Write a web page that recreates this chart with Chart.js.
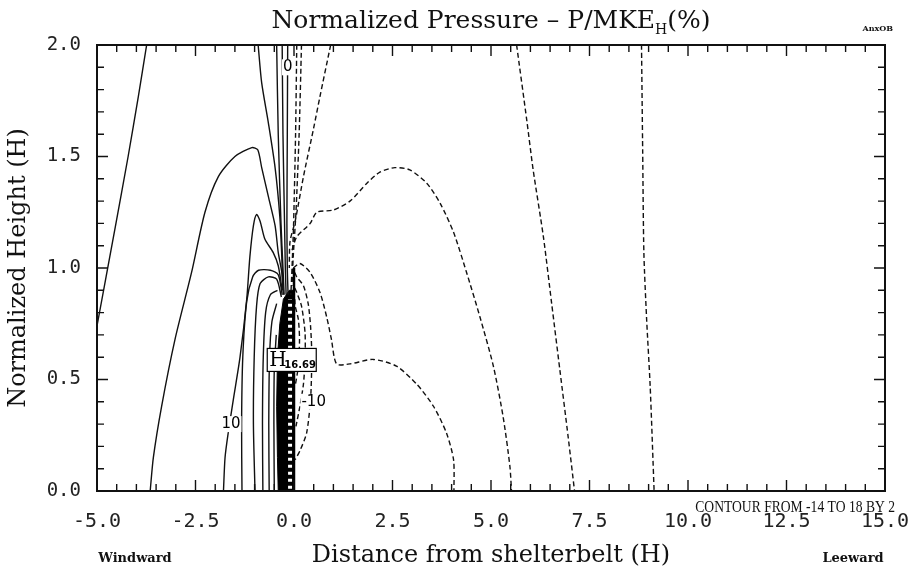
<!DOCTYPE html>
<html>
<head>
<meta charset="utf-8">
<script src="https://cdn.jsdelivr.net/npm/chart.js@4.4.0/dist/chart.umd.min.js"></script>
<style>
  body { margin: 0; background: #fff; }
  #wrap { width: 913px; height: 573px; }
</style>
</head>
<body>
<div id="wrap"><canvas id="pressureChart" width="913" height="573"></canvas></div>
<script>
// contour lines, [x (H), y (H)]
// solid = positive / zero pressure, dashed = negative
const windwardFar = [[-5,0.74],[-4.54,1.18],[-4.21,1.5],[-3.95,1.77],[-3.74,2.0]];
const windwardDome = [[-3.65,0],[-3.57,0.15],[-3.36,0.38],[-3.02,0.68],[-2.60,0.98],[-2.26,1.25],[-1.92,1.41],[-1.50,1.50],[-1.07,1.54],[-0.92,1.53],[-0.82,1.45],[-0.65,1.32],[-0.48,1.19],[-0.40,1.07],[-0.31,0.98],[-0.27,0.88]];
const windwardTen = [[-1.79,0],[-1.75,0.15],[-1.67,0.26],[-1.54,0.41],[-1.37,0.6],[-1.2,0.86],[-1.12,1.05],[-1.03,1.19],[-0.95,1.24],[-0.86,1.21],[-0.74,1.13],[-0.53,1.07],[-0.40,1.01],[-0.3,0.9]];
const windwardIn1 = [[-1.32,0],[-1.33,0.3],[-1.3,0.6],[-1.2,0.85],[-1.05,0.96],[-0.9,0.99],[-0.6,0.99],[-0.4,0.97],[-0.3,0.88]];
const windwardIn2 = [[-0.99,0],[-1.03,0.3],[-1.01,0.6],[-0.95,0.83],[-0.86,0.93],[-0.65,0.96],[-0.44,0.95],[-0.32,0.87]];
const windwardIn3 = [[-0.79,0],[-0.8,0.3],[-0.78,0.6],[-0.72,0.8],[-0.6,0.88],[-0.42,0.9]];
const windwardIn4 = [[-0.63,0],[-0.64,0.3],[-0.62,0.6],[-0.56,0.76],[-0.44,0.84]];
const windwardIn5 = [[-0.5,0],[-0.51,0.3],[-0.5,0.55],[-0.45,0.7]];
const topSolid1 = [[-0.91,2.0],[-0.82,1.83],[-0.65,1.65],[-0.48,1.45],[-0.36,1.23],[-0.31,1.05],[-0.28,0.9]];
const topSolid2 = [[-0.44,2.0],[-0.40,1.6],[-0.33,1.2],[-0.28,1.0],[-0.25,0.88]];
const topSolid3 = [[-0.30,2.0],[-0.28,1.6],[-0.24,1.2],[-0.22,1.0],[-0.2,0.88]];
const zeroLine = [[-0.16,2.0],[-0.17,1.6],[-0.18,1.2],[-0.17,1.0],[-0.15,0.88]];
const topDash1 = [[0.07,2.0],[0.04,1.6],[-0.01,1.2],[-0.05,1.0],[-0.08,0.88]];
const topDash2 = [[0.19,2.0],[0.13,1.6],[0.05,1.25],[-0.02,1.05],[-0.05,0.92]];
const topDash3 = [[0.93,2.0],[0.66,1.77],[0.49,1.62],[0.24,1.41],[0.03,1.21],[-0.10,1.12],[-0.12,1.0]];
const leeDome = [[-0.05,1.08],[0.07,1.14],[0.41,1.20],[0.58,1.25],[1.0,1.26],[1.42,1.30],[1.85,1.38],[2.18,1.43],[2.56,1.45],[2.94,1.44],[3.37,1.38],[3.71,1.29],[4.05,1.16],[4.38,0.98],[4.72,0.78],[5.06,0.56],[5.31,0.33],[5.48,0.11],[5.52,0]];
const leeShelf = [[-0.02,1.0],[0.15,1.02],[0.41,0.98],[0.66,0.89],[0.83,0.78],[0.95,0.68],[1.08,0.57],[1.42,0.57],[2.01,0.59],[2.60,0.56],[3.11,0.48],[3.54,0.38],[3.87,0.26],[4.05,0.14],[4.06,0]];
const leeLoop1 = [[0.02,0.98],[0.07,0.96],[0.24,0.92],[0.36,0.84],[0.42,0.74],[0.45,0.63],[0.45,0.56],[0.42,0.41],[0.32,0.26],[0.15,0.18],[0.03,0.14]];
const leeLoop2 = [[0.02,0.91],[0.07,0.89],[0.19,0.83],[0.28,0.71],[0.28,0.59],[0.24,0.48],[0.15,0.38],[0.05,0.29]];
const leeLoop3 = [[0.02,0.86],[0.03,0.83],[0.11,0.77],[0.14,0.68],[0.11,0.56],[0.03,0.47]];
const leeFar1 = [[5.65,2.0],[5.91,1.66],[6.07,1.44],[6.33,1.14],[6.54,0.84],[6.75,0.54],[6.96,0.24],[7.12,0]];
const leeFar2 = [[8.82,2.0],[8.85,1.52],[8.88,1.07],[8.95,0.77],[9.04,0.47],[9.14,0]];
// dense core of lines against the windward face, and the belt itself
const beltCore = [[-0.40,0],[-0.42,0.15],[-0.44,0.38],[-0.42,0.6],[-0.36,0.75],[-0.27,0.86],[-0.12,0.9],[0,0.9],[0,0]];
const beltLadder = [[-0.1,0.01],[-0.1,0.86]];
const beltFace = [[0,0],[0,1.0]];

const solidLines = [windwardFar, windwardDome, windwardTen, windwardIn1, windwardIn2, windwardIn3, windwardIn4, windwardIn5, topSolid1, topSolid2, topSolid3, zeroLine];
const dashedLines = [topDash1, topDash2, topDash3, leeDome, leeShelf, leeLoop1, leeLoop2, leeLoop3, leeFar1, leeFar2];

const contourLabels = [{text:'0', x:-0.16, y:1.9}, {text:'10', x:-1.6, y:0.30}, {text:'-10', x:0.5, y:0.40}];
const peak = {x:-0.07, y:0.59, value:'16.69'};

const xTickLabels = [-5, -2.5, 0, 2.5, 5, 7.5, 10, 12.5, 15];
const yTickLabels = [0, 0.5, 1.0, 1.5, 2.0];

const toPts = arr => arr.map(p => ({x:p[0], y:p[1]}));

const datasets = [];
solidLines.forEach(l => datasets.push({data:toPts(l), borderColor:'#111', borderWidth:1.4, tension:0.25, order:3}));
dashedLines.forEach(l => datasets.push({data:toPts(l), borderColor:'#111', borderWidth:1.4, borderDash:[5,3], tension:0.25, order:3}));
datasets.push({data:toPts(beltCore), borderColor:'#000', backgroundColor:'#000', fill:'shape', borderWidth:1, tension:0, order:5});
datasets.push({data:toPts(beltLadder), borderColor:'#fff', borderWidth:4, borderDash:[3,4], tension:0, order:1});
datasets.push({data:toPts(beltFace), borderColor:'#000', borderWidth:2.5, tension:0, order:0});

const decor = {
  id:'decor',
  afterDatasetsDraw(chart) {
    const ctx = chart.ctx, xs = chart.scales.x, ys = chart.scales.y;
    const {left, right, top, bottom} = chart.chartArea;
    ctx.save();
    // contour labels
    ctx.font = '15px "DejaVu Sans"';
    ctx.textAlign = 'center'; ctx.textBaseline = 'middle';
    contourLabels.forEach(l => {
      const px = xs.getPixelForValue(l.x), py = ys.getPixelForValue(l.y);
      const w = ctx.measureText(l.text).width;
      ctx.fillStyle = '#fff'; ctx.fillRect(px - w/2 - 1, py - 8, w + 2, 16);
      ctx.fillStyle = '#000'; ctx.fillText(l.text, px, py);
    });
    // peak box
    const bx = xs.getPixelForValue(peak.x), by = ys.getPixelForValue(peak.y);
    ctx.fillStyle = '#fff'; ctx.fillRect(bx - 24, by - 11, 49, 23);
    ctx.strokeStyle = '#000'; ctx.lineWidth = 1.2; ctx.strokeRect(bx - 24, by - 11, 49, 23);
    ctx.fillStyle = '#000'; ctx.textAlign = 'left'; ctx.textBaseline = 'alphabetic';
    ctx.font = '20px "DejaVu Serif"'; ctx.fillText('H', bx - 22, by + 7);
    ctx.font = 'bold 10px "DejaVu Sans"'; ctx.fillText(peak.value, bx - 7, by + 9);
    // frame and inward ticks
    ctx.strokeStyle = '#111'; ctx.lineWidth = 2;
    ctx.strokeRect(left, top, right - left, bottom - top);
    ctx.lineWidth = 1.4;
    ctx.beginPath();
    for (let i = 0; i <= 40; i++) {
      const px = xs.getPixelForValue(-5 + i * 0.5), len = i % 5 === 0 ? 11 : 7;
      ctx.moveTo(px, bottom); ctx.lineTo(px, bottom - len);
      ctx.moveTo(px, top); ctx.lineTo(px, top + len);
    }
    for (let i = 0; i <= 20; i++) {
      const py = ys.getPixelForValue(i * 0.1), len = i % 5 === 0 ? 11 : 7;
      ctx.moveTo(left, py); ctx.lineTo(left + len, py);
      ctx.moveTo(right, py); ctx.lineTo(right - len, py);
    }
    ctx.stroke();
    ctx.restore();
  },
  afterDraw(chart) {
    const ctx = chart.ctx;
    const {left, right, bottom} = chart.chartArea;
    const cx = (left + right) / 2;
    ctx.save();
    ctx.fillStyle = '#111'; ctx.textBaseline = 'alphabetic';
    // title with subscript H
    const t1 = 'Normalized Pressure \u2013 P/MKE', t2 = 'H', t3 = '(%)';
    ctx.font = '25px "DejaVu Serif"'; const w1 = ctx.measureText(t1).width, w3 = ctx.measureText(t3).width;
    ctx.font = '14px "DejaVu Serif"'; const w2 = ctx.measureText(t2).width;
    let x0 = cx - (w1 + w2 + w3) / 2;
    ctx.textAlign = 'left';
    ctx.font = '25px "DejaVu Serif"'; ctx.fillText(t1, x0, 28);
    ctx.font = '14px "DejaVu Serif"'; ctx.fillText(t2, x0 + w1, 34);
    ctx.font = '25px "DejaVu Serif"'; ctx.fillText(t3, x0 + w1 + w2, 28);
    ctx.font = 'bold 8px "DejaVu Serif"'; ctx.textAlign = 'right'; ctx.fillText('AnxOB', right + 8, 31);
    // bottom annotations
    ctx.font = 'bold 13px "DejaVu Serif"';
    ctx.textAlign = 'center'; ctx.fillText('Windward', left + 38, 562);
    ctx.fillText('Leeward', right - 32, 562);
    // narrow, tall contour note
    ctx.font = '17px "Liberation Serif"'; ctx.textAlign = 'right';
    ctx.translate(right + 10, bottom + 21);
    ctx.scale(0.8, 1);
    ctx.fillText('CONTOUR FROM -14 TO 18 BY 2', 0, 0);
    ctx.restore();
  }
};

new Chart(document.getElementById('pressureChart'), {
  type: 'scatter',
  data: { datasets },
  plugins: [decor],
  options: {
    responsive: false,
    animation: false,
    showLine: true,
    layout: { padding: { top: 45, right: 28, left: 0, bottom: 0 } },
    elements: { point: { radius: 0, hoverRadius: 0 } },
    plugins: { legend: { display: false }, tooltip: { enabled: false } },
    scales: {
      x: {
        type: 'linear', min: -5, max: 15,
        afterBuildTicks: s => { s.ticks = xTickLabels.map(v => ({value: v})); },
        afterFit: s => { s.height = 82; s.paddingLeft = 0; s.paddingRight = 0; },
        grid: { display: false, drawTicks: false },
        border: { display: false },
        ticks: { padding: 19, color: '#222', font: { family: 'DejaVu Sans Mono', size: 20 }, maxRotation: 0,
                 callback: v => v.toFixed(1) },
        title: { display: true, text: 'Distance from shelterbelt (H)', color: '#111',
                 font: { family: 'DejaVu Serif', size: 24 }, padding: { top: 0, bottom: 3 } }
      },
      y: {
        type: 'linear', min: 0, max: 2,
        afterBuildTicks: s => { s.ticks = yTickLabels.map(v => ({value: v})); },
        afterFit: s => { s.width = 97; },
        grid: { display: false, drawTicks: false },
        border: { display: false },
        ticks: { padding: 16, color: '#222', font: { family: 'DejaVu Sans Mono', size: 19 },
                 callback: v => v.toFixed(1) },
        title: { display: true, text: 'Normalized Height (H)', color: '#111',
                 font: { family: 'DejaVu Serif', size: 24 }, padding: { top: 4, bottom: 0 } }
      }
    }
  }
});
</script>
</body>
</html>
